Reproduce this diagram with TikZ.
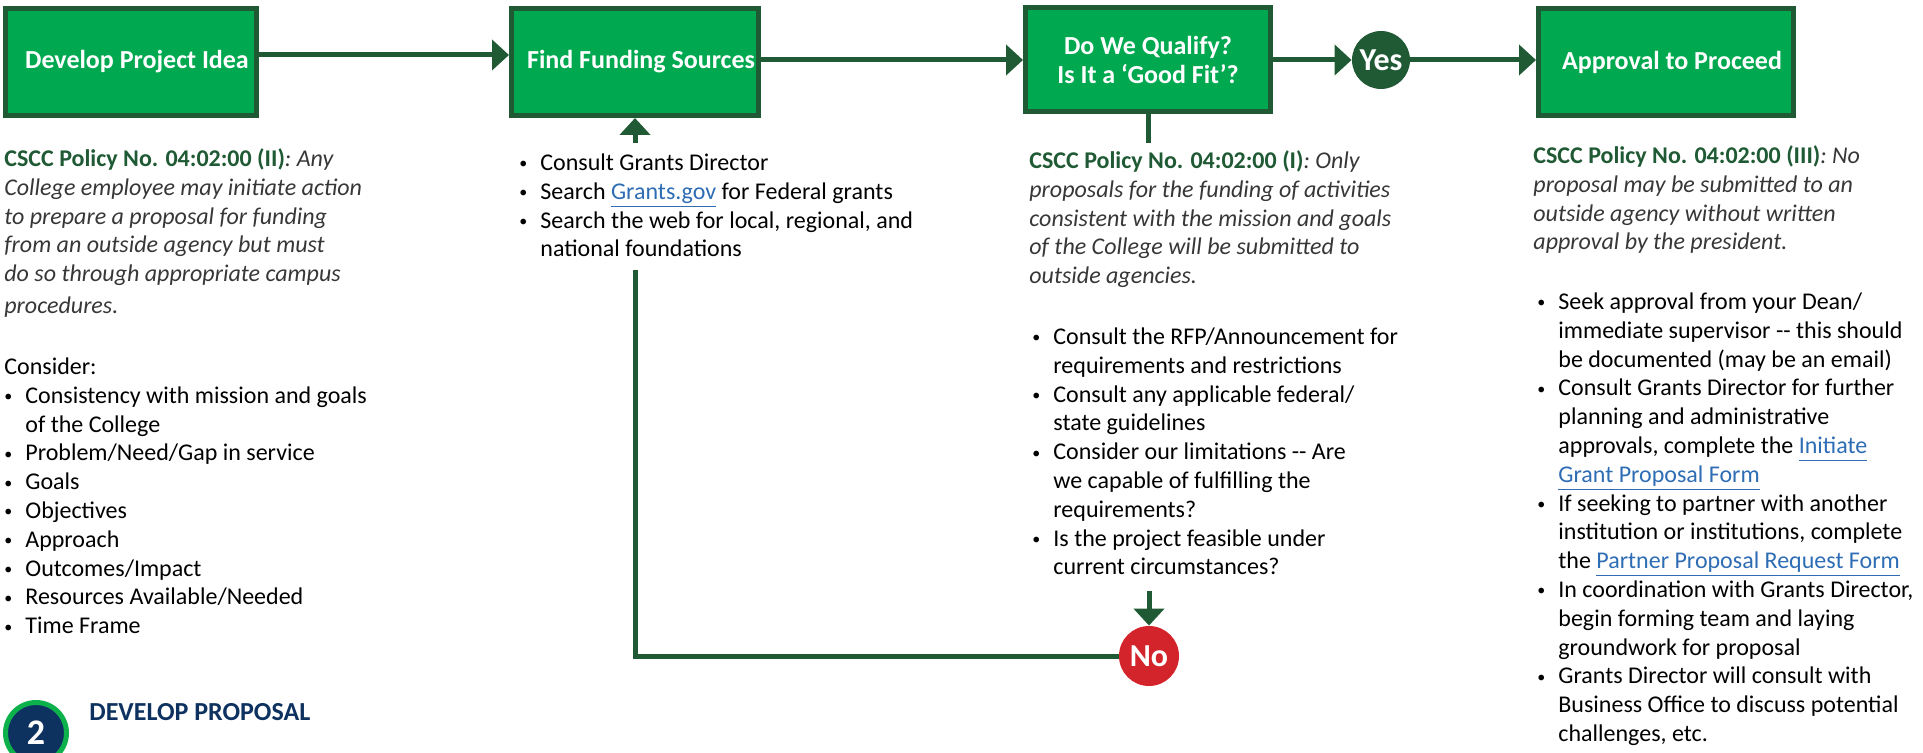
\documentclass[tikz,border=0pt]{standalone}
\usepackage{fontspec}
\setmainfont{Carlito}
\usetikzlibrary{arrows.meta}
\definecolor{boxgreen}{RGB}{0,168,79}
\definecolor{dkgreen}{RGB}{31,90,52}
\definecolor{nored}{RGB}{211,35,43}
\definecolor{navy}{RGB}{14,50,96}
\definecolor{ringgreen}{RGB}{12,177,75}
\definecolor{linkblue}{RGB}{46,109,180}
\definecolor{txtgray}{RGB}{55,55,55}
\newcommand\bodyfont{\fontsize{12}{14.4}\selectfont}
\newcommand\blt{\makebox[10.5pt][l]{\raisebox{0.8pt}{\fontsize{8}{8}\selectfont\textbullet}}}
\newcommand\bind{\hspace*{10.5pt}}
\newcommand\lnk[1]{{\color{linkblue}\underline{#1\vphantom{g}}}}
\newcommand\pol[1]{{\color{dkgreen}\upshape\bfseries #1}}

\begin{document}
\begin{tikzpicture}[x=0.5pt,y=-0.5pt,
   bx/.style={draw=dkgreen,line width=2.5pt,fill=boxgreen,text=white,inner sep=0pt,
      align=center,font=\fontsize{13}{14.5}\selectfont\bfseries,minimum height=53.5pt},
   yn/.style={circle,inner sep=0pt,text=white,font=\fontsize{16}{19}\selectfont\bfseries},
   con/.style={draw=dkgreen,line width=2.5pt},
   arr/.style={con,-{Triangle[width=15pt,length=8.5pt]}},
   txt/.style={anchor=north west,inner sep=0pt,align=left,font=\bodyfont}]
   \useasboundingbox (0,0) rectangle (1923,753);
   % steps
   \node[bx,minimum width=125.5pt] (b1) at (131,62) {\hspace*{6pt}Develop Project Idea};
   \node[bx,minimum width=123.5pt] (b2) at (635,62) {\hspace*{6pt}Find Funding Sources};
   \node[bx,minimum width=122.5pt,minimum height=52pt] (b3) at (1148,60)
      {Do We Qualify?\\Is It a ‘Good Fit’?};
   \node[bx,minimum width=127.5pt] (b4) at (1666,62) {\hspace*{6pt}Approval to Proceed};
   % decisions
   \node[yn,fill=dkgreen,minimum size=29pt] (yes) at (1381,60) {Yes};
   \node[yn,fill=nored,minimum size=30pt] (no) at (1149,656) {No};
   % free ends
   \coordinate (q1) at (1148,143);
   \coordinate (q2) at (1149,591);
   \coordinate (f1) at (635,143);
   \coordinate (f2) at (635,270);
   % connectors
   \draw[arr] ([yshift=3.5pt]b1.east) -- ([yshift=3.5pt]b2.west);
   \draw[arr] (b2.east |- b3.west) -- (b3.west);
   \draw[arr] (b3.east) -- (yes.west);
   \draw[arr] (yes.east) -- (yes.east -| b4.west);
   \draw[con] (b3.south) -- (q1);
   \draw[arr] (f1) -- (b2.south);
   \draw[con] (f2) |- (no.west);
   \draw[arr] (q2) -- (no.north);
   % texts
   \node[txt,text=txtgray,font=\bodyfont\itshape] (pol1) at (4,146)
      {\strut\pol{CSCC Policy No. 04:02:00 (II)}: Any\\
       College employee may initiate action\\
       to prepare a proposal for funding\\
       from an outside agency but must\\
       do so through appropriate campus\\[1.5pt]
       procedures.};
   \node[txt] (con1) at (4,354)
      {\strut Consider:\\
       \blt Consistency with mission and goals\\
       \bind of the College\\
       \blt Problem/Need/Gap in service\\
       \blt Goals\\
       \blt Objectives\\
       \blt Approach\\
       \blt Outcomes/Impact\\
       \blt Resources Available/Needed\\
       \blt Time Frame};
   \node[txt] (lst2) at (519,150)
      {\strut\blt Consult Grants Director\\
       \blt Search \lnk{Grants.gov} for Federal grants\\
       \blt Search the web for local, regional, and\\
       \bind national foundations};
   \node[txt,text=txtgray,font=\bodyfont\itshape] (pol3) at (1029,148)
      {\strut\pol{CSCC Policy No. 04:02:00 (I)}: Only\\
       proposals for the funding of activities\\
       consistent with the mission and goals\\
       of the College will be submitted to\\
       outside agencies.};
   \node[txt] (lst3) at (1032,324)
      {\strut\blt Consult the RFP/Announcement for\\
       \bind requirements and restrictions\\
       \blt Consult any applicable federal/\\
       \bind state guidelines\\
       \blt Consider our limitations -{}- Are\\
       \bind we capable of fulfilling the\\
       \bind requirements?\\
       \blt Is the project feasible under\\
       \bind current circumstances?};
   \node[txt,text=txtgray,font=\bodyfont\itshape] (pol4) at (1533,143)
      {\strut\pol{CSCC Policy No. 04:02:00 (III)}: No\\
       proposal may be submitted to an\\
       outside agency without written\\
       approval by the president.};
   \node[txt] (lst4) at (1537,289)
      {\strut\blt Seek approval from your Dean/\\
       \bind immediate supervisor -{}- this should\\
       \bind be documented (may be an email)\\
       \blt Consult Grants Director for further\\
       \bind planning and administrative\\
       \bind approvals, complete the \lnk{Initiate}\\
       \bind \lnk{Grant Proposal Form}\\
       \blt If seeking to partner with another\\
       \bind institution or institutions, complete\\
       \bind the \lnk{Partner Proposal Request Form}\\
       \blt In coordination with Grants Director,\\
       \bind begin forming team and laying\\
       \bind groundwork for proposal\\
       \blt Grants Director will consult with\\
       \bind Business Office to discuss potential\\
       \bind challenges, etc.};
   % next section
   \node[circle,draw=ringgreen,line width=2.5pt,fill=navy,minimum size=30.5pt,inner sep=0pt,
      text=white,font=\fontsize{18}{20}\selectfont\bfseries] (n2) at (36,733) {2};
   \node[anchor=base west,inner sep=0pt,text=navy,font=\fontsize{13}{16}\selectfont\bfseries]
      (hd) at (89,720) {DEVELOP PROPOSAL};
\end{tikzpicture}
\end{document}
